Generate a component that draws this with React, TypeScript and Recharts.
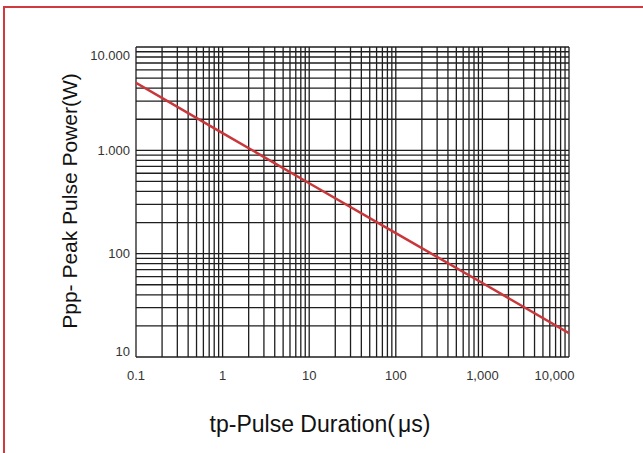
import React from 'react'
import { LineChart, Line, XAxis, YAxis, ReferenceLine } from 'recharts'

// pulse duration (µs) vs peak pulse power (W)
const durations = [0.1, 1, 10, 100, 1000, 10000]
const peakPower = [4500, 1470, 480, 158, 52, 17]

const xTicks = [0.1, 1, 10, 100, 1000, 10000]
const xTickLabels = ['0.1', '1', '10', '100', '1,000', '10,000']
const yTicks = [10, 100, 1000, 10000]
const yTickLabels = ['10', '100', '1.000', '10.000']

// log grid: 1..9 in every decade
const gridMultipliers = [1, 2, 3, 4, 5, 6, 7, 8, 9]
const xDecades = [0.1, 1, 10, 100, 1000]
const yDecades = [10, 100, 1000]

const xGrid = [...xDecades.flatMap((d) => gridMultipliers.map((m) => +(d * m).toPrecision(3))), 10000]
const yGrid = [...yDecades.flatMap((d) => gridMultipliers.map((m) => d * m)), 10000]

const data = durations.map((t, i) => ({ t, p: peakPower[i] }))

const FONT = '"Liberation Sans", Arial, sans-serif'

const XTick = (props: any) => {
  const { x, y, payload } = props
  const i = xTicks.indexOf(payload.value)
  const shift = i === xTicks.length - 1 ? -14.5 : 0
  return (
    <text x={x + shift} y={y} dy="0.71em" textAnchor="middle" fontSize={13} fontFamily={FONT} fill="#333">
      {xTickLabels[i]}
    </text>
  )
}

const YTick = (props: any) => {
  const { x, y, payload } = props
  const i = yTicks.indexOf(payload.value)
  let shift = 0
  if (i === yTicks.length - 1) shift = 8
  if (i === 0) shift = -5.5
  return (
    <text x={x} y={y + shift} dy="0.355em" textAnchor="end" fontSize={13} fontFamily={FONT} fill="#333">
      {yTickLabels[i]}
    </text>
  )
}

export default function App() {
  return (
    <div style={{ position: 'fixed', left: 0, top: 0, width: 643, height: 453, overflow: 'hidden', background: '#fff' }}>
      <div
        style={{
          position: 'absolute',
          left: 3,
          top: 6,
          width: 640,
          height: 447,
          borderTop: '2px solid #d0393d',
          borderLeft: '2px solid #d0393d',
          boxSizing: 'border-box',
        }}
      />
      <LineChart width={643} height={453} data={data} margin={{ top: 47, right: 74, bottom: 0, left: 0 }}>
        <XAxis
          dataKey="t"
          type="number"
          scale="log"
          domain={[0.1, 10000]}
          ticks={xTicks}
          allowDataOverflow
          axisLine={false}
          tickLine={false}
          tickSize={0}
          tickMargin={14}
          height={96}
          tick={<XTick />}
        />
        <YAxis
          type="number"
          scale="log"
          domain={[10, 10000]}
          ticks={yTicks}
          allowDataOverflow
          axisLine={false}
          tickLine={false}
          tickSize={0}
          tickMargin={6}
          width={136}
          tick={<YTick />}
        />
        {xGrid.map((v) => (
          <ReferenceLine key={`vx-${v}`} x={v} stroke="#1e1e1e" strokeWidth={1.3} ifOverflow="extendDomain" />
        ))}
        {yGrid.map((v) => (
          <ReferenceLine key={`hy-${v}`} y={v} stroke="#1e1e1e" strokeWidth={1.3} ifOverflow="extendDomain" />
        ))}
        <Line type="linear" dataKey="p" stroke="#c9373b" strokeWidth={2.5} dot={false} isAnimationActive={false} />
      </LineChart>
      <div
        style={{
          position: 'absolute',
          left: 70,
          top: 201,
          transform: 'translate(-50%, -50%) rotate(-90deg)',
          whiteSpace: 'nowrap',
          fontFamily: FONT,
          fontSize: 21,
          color: '#111',
        }}
      >
        Ppp- Peak Pulse Power(W)
      </div>
      <div
        style={{
          position: 'absolute',
          left: 320,
          top: 424,
          transform: 'translate(-50%, -50%)',
          whiteSpace: 'nowrap',
          fontFamily: FONT,
          fontSize: 23,
          color: '#111',
        }}
      >
        tp-Pulse Duration(<span style={{ marginLeft: 3 }}>μ</span>s)
      </div>
    </div>
  )
}
